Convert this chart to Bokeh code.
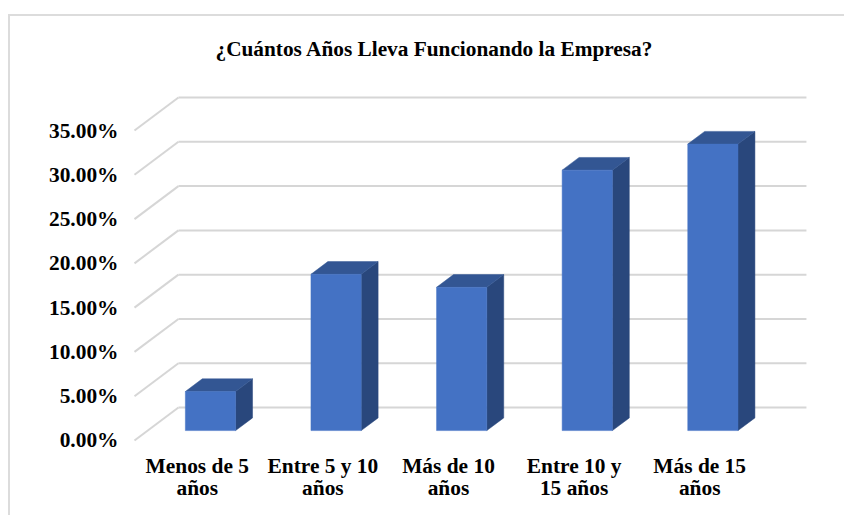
from bokeh.embed import file_html
from bokeh.models import FixedTicker, LinearAxis, PrintfTickFormatter, Range1d
from bokeh.plotting import figure
from bokeh.resources import INLINE

title_text = "¿Cuántos Años Lleva Funcionando la Empresa?"
categories = ["Menos de 5\naños", "Entre 5 y 10\naños", "Más de 10\naños", "Entre 10 y\n15 años", "Más de 15\naños"]
shares = [4.41, 17.65, 16.18, 29.41, 32.35]
tick_values = [0, 5, 10, 15, 20, 25, 30, 35]

FONT = "Liberation Serif"
FRONT, SIDE, TOP = "#4472C4", "#29477C", "#335693"
GRID = "#D6D6D6"
EDGE = "#DCDCDC"

# Oblique projection of the 3-D column chart: depth 0 is the front edge of the
# floor, depth 1 the back wall.
DEPTH_X, DEPTH_Y = 0.35, 3.726
BAR_WIDTH = 0.4
BAR_NEAR, BAR_FAR = 0.3, 0.685


def project(x, y, depth):
    return x + depth * DEPTH_X, y + depth * DEPTH_Y


p = figure(
    width=844, height=515, output_backend="svg", toolbar_location=None,
    x_range=Range1d(-0.0955, 5.653), y_range=Range1d(-0.68, 41.78),
    x_axis_type=None, y_axis_type=None,
    min_border_left=122, min_border_right=0, min_border_top=70, min_border_bottom=69,
    background_fill_color=None, border_fill_color=None, outline_line_color=None,
    title=title_text,
)
p.grid.visible = False

# Chart-area border, top and left edges, painted behind the transparent canvas.
p.styles = {
    "background": (
        f"linear-gradient({EDGE},{EDGE}) 8px 14px / 836px 2px no-repeat, "
        f"linear-gradient({EDGE},{EDGE}) 8px 14px / 2px 501px no-repeat, white"
    )
}

p.title.text_font = FONT
p.title.text_font_size = "21.3px"
p.title.text_font_style = "bold"
p.title.text_color = "black"
p.title.align = "left"
p.title.offset = 93
p.title.standoff = 19

# Floor/side edges and back-wall gridlines.
side_x, side_y, back_x, back_y = [], [], [], []
for v in tick_values:
    x0, y0 = project(0, v, 0)
    x1, y1 = project(0, v, 1)
    x2, y2 = project(len(categories), v, 1)
    side_x.append([x0, x1])
    side_y.append([y0, y1])
    back_x.append([x1, x2])
    back_y.append([y1, y2])
p.multi_line(side_x, side_y, line_color=GRID, line_width=2)
p.multi_line(back_x, back_y, line_color=GRID, line_width=2)

# Columns: right side, top, then the front face.
sx, sy, tx, ty, fx, fy = [], [], [], [], [], []
for i, value in enumerate(shares):
    left = i + 0.5 - BAR_WIDTH / 2
    right = left + BAR_WIDTH
    a = project(right, 0, BAR_NEAR)
    b = project(right, 0, BAR_FAR)
    c = project(right, value, BAR_FAR)
    d = project(right, value, BAR_NEAR)
    e = project(left, value, BAR_NEAR)
    f = project(left, value, BAR_FAR)
    g = project(left, 0, BAR_NEAR)
    sx.append([a[0], b[0], c[0], d[0]])
    sy.append([a[1], b[1], c[1], d[1]])
    tx.append([e[0], f[0], c[0], d[0]])
    ty.append([e[1], f[1], c[1], d[1]])
    fx.append([g[0], a[0], d[0], e[0]])
    fy.append([g[1], a[1], d[1], e[1]])
p.patches(sx, sy, fill_color=SIDE, line_color=SIDE, line_width=0.5)
p.patches(tx, ty, fill_color=TOP, line_color=TOP, line_width=0.5)
p.patches(fx, fy, fill_color=FRONT, line_color=FRONT, line_width=0.5)

# Value axis along the front edge.
y_axis = LinearAxis(
    ticker=FixedTicker(ticks=tick_values),
    formatter=PrintfTickFormatter(format="%.2f%%"),
    axis_line_color=None, major_tick_line_color=None, minor_tick_line_color=None,
    major_label_text_font=FONT, major_label_text_font_size="21.4px",
    major_label_text_font_style="bold", major_label_text_color="black",
    major_label_standoff=-2,
)
p.add_layout(y_axis, "left")

# Category axis, labels on two lines.
x_axis = LinearAxis(
    ticker=FixedTicker(ticks=[i + 0.5 for i in range(len(categories))]),
    major_label_overrides={i + 0.5: c for i, c in enumerate(categories)},
    axis_line_color=None, major_tick_line_color=None, minor_tick_line_color=None,
    major_label_text_font=FONT, major_label_text_font_size="21.4px",
    major_label_text_font_style="bold", major_label_text_color="black",
    major_label_text_line_height=0.95, major_label_standoff=1,
)
p.add_layout(x_axis, "below")

open("out.html", "w").write(file_html(p, INLINE))
